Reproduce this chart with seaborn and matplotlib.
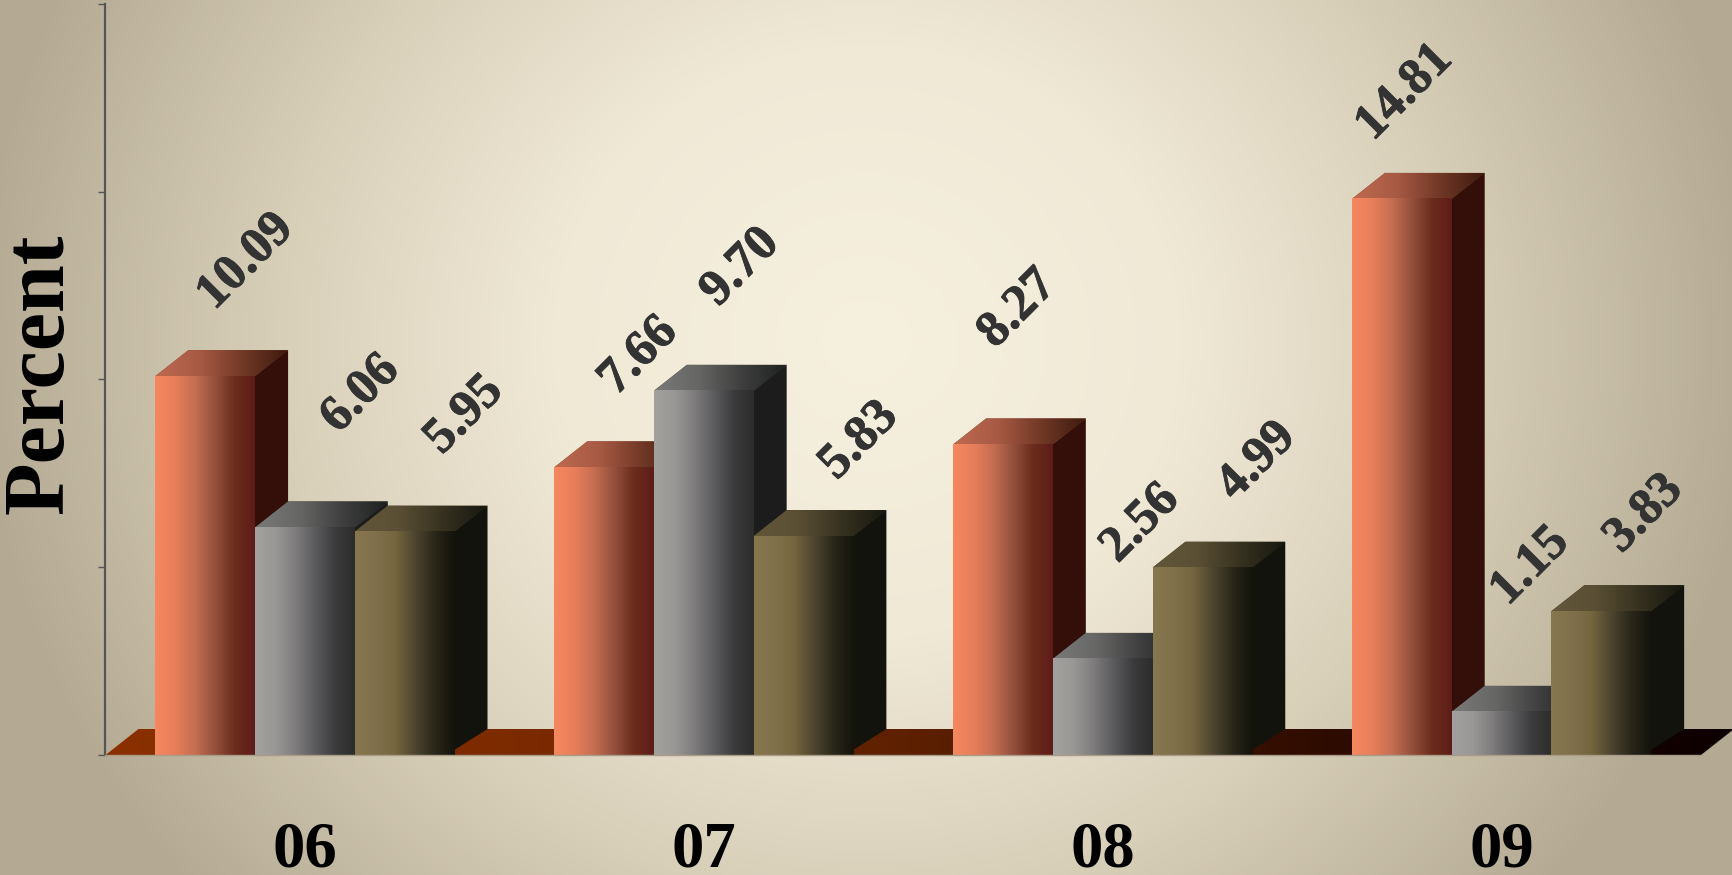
import numpy as np
import pandas as pd
import seaborn as sns
import matplotlib
matplotlib.use("Agg")
import matplotlib.pyplot as plt
from matplotlib.colors import LinearSegmentedColormap
from matplotlib.patches import Polygon
from matplotlib.patheffects import withStroke

# ---- data ----
years = ["06", "07", "08", "09"]
series_names = ["Series A", "Series B", "Series C"]
series_a = [10.09, 7.66, 8.27, 14.81]
series_b = [6.06, 9.70, 2.56, 1.15]
series_c = [5.95, 5.83, 4.99, 3.83]
y_ticks = [0, 5, 10, 15, 20]

# ---- style ----
label_offsets_px = {  # (dx, dy) of each value label from its bar-top centre, pixels
    "Series A": [(41, 114), (35, 111), (15, 135), (3, 106)],
    "Series B": [(56, 133), (37, 123), (38, 135), (29, 145)],
    "Series C": [(60, 116), (56, 95), (55, 106), (43, 97)],
}
front_stops = {
    "Series A": ["#F6885F", "#E87E5B", "#C56E52", "#94503C", "#6B2C1C", "#5E1C18"],
    "Series B": ["#A3A19E", "#9A9896", "#7F7D7D", "#5C5B5E", "#3C3C3E", "#2C2C2B"],
    "Series C": ["#87774F", "#80714C", "#75663F", "#4E4530", "#2A2719", "#14130C"],
}
top_stops = {
    "Series A": ["#BE6A50", "#A85A44", "#703826", "#3E1A0E"],
    "Series B": ["#7A7A78", "#666665", "#3E3E3E", "#1E2020"],
    "Series C": ["#63573A", "#5A4F34", "#36311F", "#17170F"],
}
side_colors = {"Series A": "#340F09", "Series B": "#1B1C1B", "Series C": "#12130D"}
DEPTH_X_PX, DEPTH_Y_PX = 33, 26
W, H = 1733, 875
AX_L, AX_R, AX_T, AX_B = 105.5, 1701, 4, 755
SERIF = "Liberation Serif"

sns.set_theme(style="white")
plt.rcParams["font.family"] = [SERIF, "DejaVu Serif"]

df = pd.DataFrame({
    "year": years * 3,
    "series": np.repeat(series_names, len(years)),
    "percent": series_a + series_b + series_c,
})

fig = plt.figure(figsize=(W / 100, H / 100), dpi=100)

# radial background
yy, xx = np.mgrid[0:H, 0:W]
nx = (xx - 0.5 * W) / (0.5 * W)
ny = (yy - 0.39 * H) / (0.62 * H)
r = np.sqrt(0.94 * nx ** 2 + 0.41 * ny ** 2)
bg_cmap = LinearSegmentedColormap.from_list(
    "bg", [(0, "#F6F0DF"), (0.35, "#F0E9D6"), (0.65, "#D9D0BA"), (1, "#B4AA93")])
fig.figimage(bg_cmap(np.clip(r, 0, 1)), xo=0, yo=0, origin="upper", zorder=-10)

ax = fig.add_axes([AX_L / W, 1 - AX_B / H, (AX_R - AX_L) / W, (AX_B - AX_T) / H])
ax.patch.set_alpha(0)

sns.barplot(data=df, x="year", y="percent", hue="series", order=years,
            hue_order=series_names, width=0.75, gap=0, saturation=1,
            palette=dict(zip(series_names, ["#D0745A", "#7F7D7D", "#75663F"])),
            legend=False, ax=ax, errorbar=None, linewidth=0)

xlim = (-0.5, 3.5)
ylim = (0, 20)
ax.set_xlim(xlim)
ax.set_ylim(ylim)
dx = DEPTH_X_PX * (xlim[1] - xlim[0]) / (AX_R - AX_L)
dy = DEPTH_Y_PX * (ylim[1] - ylim[0]) / (AX_B - AX_T)
grad = np.linspace(0, 1, 256).reshape(1, -1)


def gradient_fill(extent, stops, clip, zorder):
    im = ax.imshow(grad, extent=extent, aspect="auto", zorder=zorder,
                   cmap=LinearSegmentedColormap.from_list("g", stops),
                   interpolation="bilinear")
    if clip is not None:
        clip.set_transform(ax.transData)
        im.set_clip_path(clip)
        im.set_clip_box(fig.bbox)
    return im


# floor
floor = Polygon([(xlim[0], 0), (xlim[0] + dx, dy), (xlim[1] + dx, dy), (xlim[1], 0)], closed=True)
gradient_fill((xlim[0], xlim[1] + dx, 0, dy),
              ["#8A3000", "#7C2A00", "#5C2000", "#2E0C00", "#0C0000"], floor, 1)

# extruded bars
rows = [(s, i) for s in series_names for i in range(len(years))]
bars = list(ax.patches)[:len(rows)]
for bar, (s, i) in zip(bars, rows):
    x0, x1, h = bar.get_x(), bar.get_x() + bar.get_width(), bar.get_height()
    order = 3 + i * 3 + series_names.index(s)
    ax.add_patch(Polygon([(x1 - dx / 4, 0), (x1 + dx, dy), (x1 + dx, h + dy), (x1 - dx / 4, h + dy / 4)],
                         closed=True, fc=side_colors[s], ec="none", zorder=order))
    top_pts = [(x0, h), (x0 + dx, h + dy), (x1 + dx, h + dy), (x1, h)]
    ax.add_patch(Polygon(top_pts, closed=True, fc=top_stops[s][2], ec="none", zorder=order + 0.05))
    gradient_fill((x0, x1 + dx, h, h + dy), top_stops[s],
                  Polygon(top_pts, closed=True), order + 0.1)
    gradient_fill((x0, x1, 0, h), front_stops[s], None, order + 0.2)
    bar.set_visible(False)
    off = label_offsets_px[s][i]
    ax.annotate(f"{h:.2f}", xy=((x0 + x1) / 2, h), xytext=(off[0] * 0.72, off[1] * 0.72),
                textcoords="offset points", rotation=45, rotation_mode="anchor",
                ha="center", va="center", fontsize=36.5, fontweight="bold",
                color="#333333", zorder=40, annotation_clip=False,
                path_effects=[withStroke(linewidth=0.6, foreground="#333333")])

ax.set_xlim(xlim)
ax.set_ylim(ylim)
ax.set_yticks(y_ticks)
ax.set_yticklabels([])
ax.set_xticks(range(len(years)))
ax.set_xticklabels(years, fontsize=46.5, fontweight="bold", color="black")
ax.tick_params(axis="x", length=0, pad=47)
ax.tick_params(axis="y", length=5, width=1.0, color="#555555", left=True)
ax.set_xlabel("")
ax.set_ylabel("Percent", fontsize=62, fontweight="bold", color="black")
ax.yaxis.set_label_coords(-0.015, 0.508)
for side in ("top", "right"):
    ax.spines[side].set_visible(False)
ax.spines["left"].set_color("#555555")
ax.spines["left"].set_linewidth(1.6)
ax.spines["left"].set_zorder(50)
ax.spines["bottom"].set_color("#A89C88")
ax.spines["bottom"].set_linewidth(1.0)
ax.spines["bottom"].set_zorder(50)

fig.savefig("out.png", dpi=100)
